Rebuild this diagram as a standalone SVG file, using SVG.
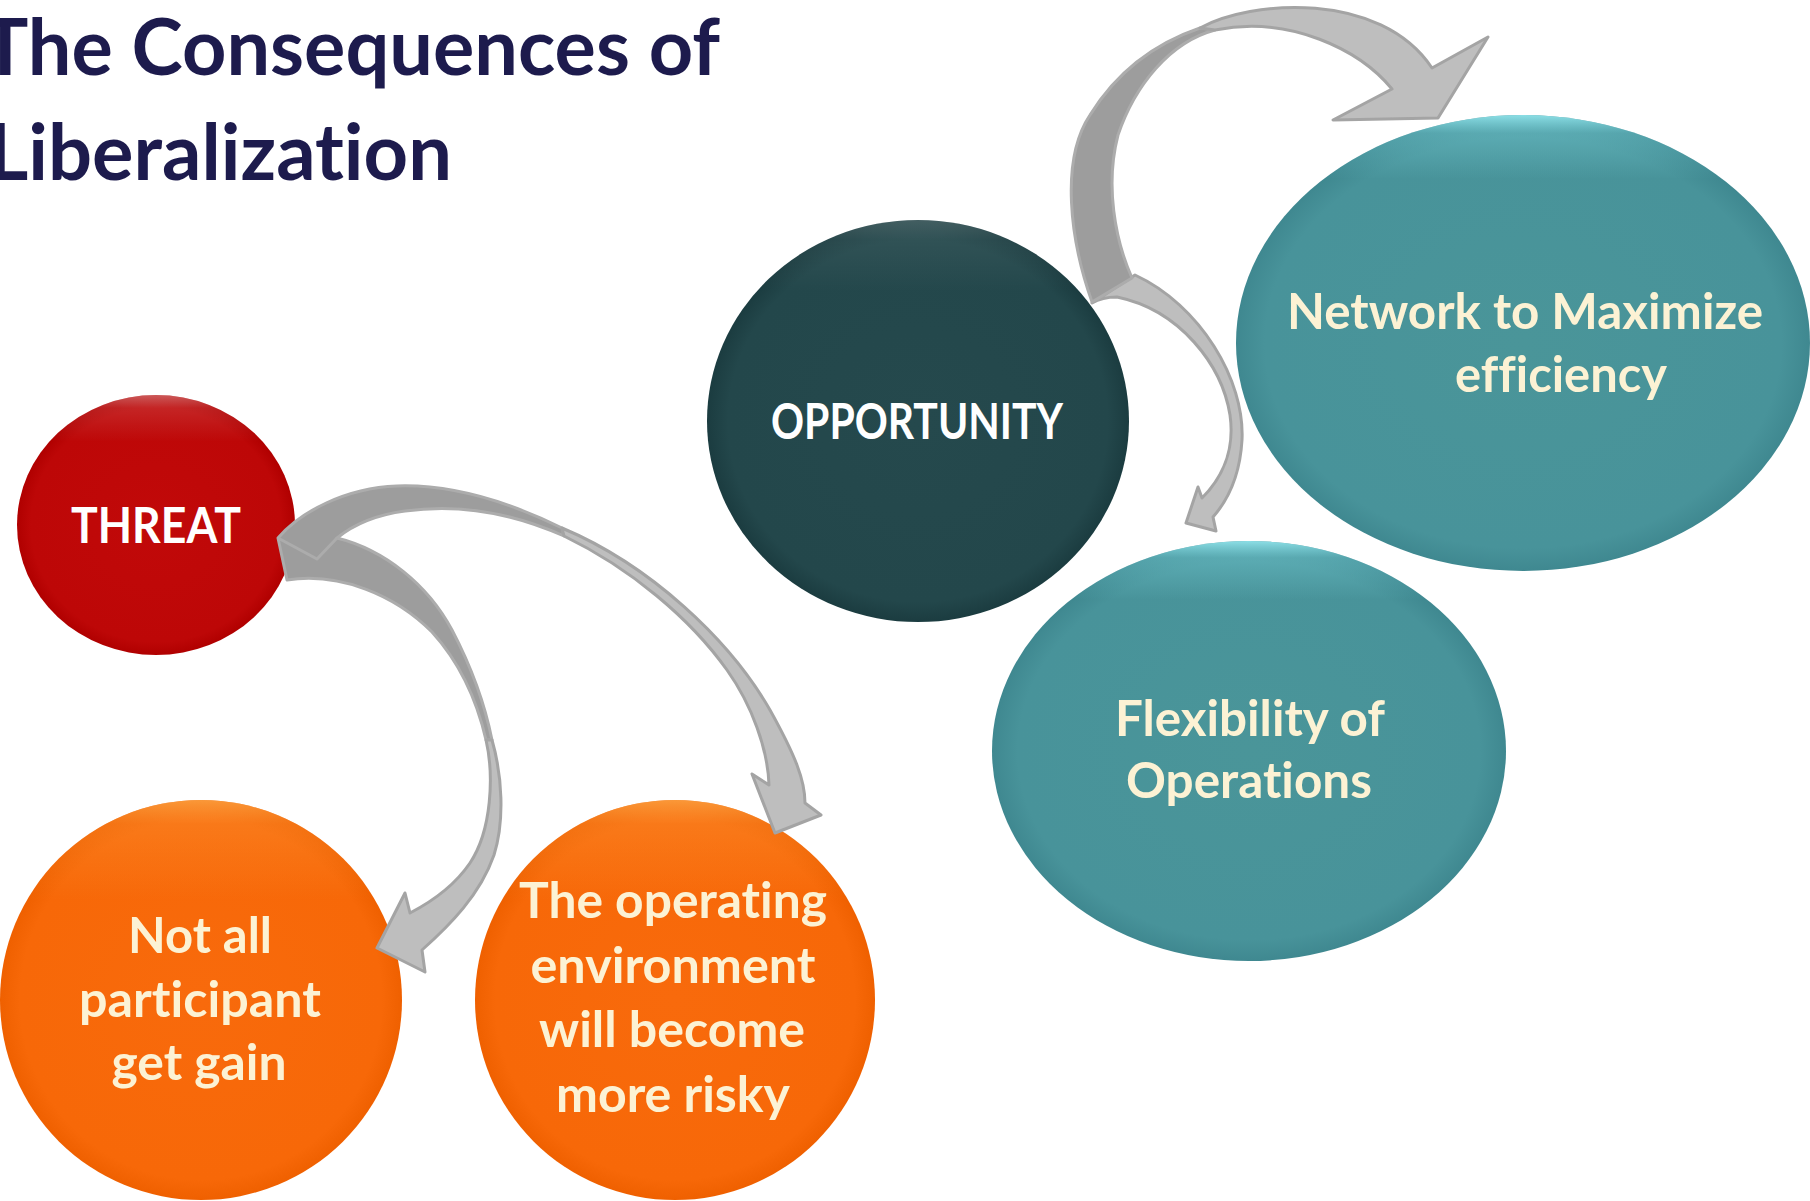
<svg xmlns="http://www.w3.org/2000/svg" width="1810" height="1201" viewBox="0 0 1810 1201">
<defs>
<style>
.title{font-family:Lato,"Open Sans","Liberation Sans",sans-serif;font-weight:700;font-size:78px;fill:#1d1b4d;font-variant-ligatures:none;font-feature-settings:"liga" 0,"clig" 0}
.lbl{font-family:Lato,"Open Sans","Liberation Sans",sans-serif;font-weight:700;font-size:50px;fill:#fcf2d4;text-anchor:middle;font-variant-ligatures:none;font-feature-settings:"liga" 0,"clig" 0}
.wh{fill:#ffffff}
.light{fill:#bebebe;stroke:#a4a4a4;stroke-width:3;stroke-linejoin:round}
.dark{fill:#9d9d9d;stroke:#acacac;stroke-width:3;stroke-linejoin:round}
.notch{fill:none;stroke:#acacac;stroke-width:3;stroke-linejoin:round}
</style>
<radialGradient id="gRed" cx="50%" cy="50%" r="50%">
<stop offset="0" stop-color="#c10909"/><stop offset="0.9" stop-color="#bd0707"/><stop offset="1" stop-color="#b00000"/>
</radialGradient>
<radialGradient id="gDark" cx="50%" cy="50%" r="50%">
<stop offset="0" stop-color="#25494d"/><stop offset="0.9" stop-color="#23474b"/><stop offset="1" stop-color="#1b3c40"/>
</radialGradient>
<radialGradient id="gTeal" cx="50%" cy="50%" r="50%">
<stop offset="0" stop-color="#4a9599"/><stop offset="0.9" stop-color="#48939a"/><stop offset="1" stop-color="#3f8890"/>
</radialGradient>
<radialGradient id="gOrange" cx="50%" cy="50%" r="50%">
<stop offset="0" stop-color="#f86a0c"/><stop offset="0.9" stop-color="#f76808"/><stop offset="1" stop-color="#ef6000"/>
</radialGradient>
<linearGradient id="rimW" x1="0" y1="0" x2="0" y2="1">
<stop offset="0" stop-color="#ffffff" stop-opacity="0.35"/><stop offset="0.05" stop-color="#ffffff" stop-opacity="0.12"/><stop offset="0.18" stop-color="#ffffff" stop-opacity="0"/>
</linearGradient>
<linearGradient id="rimC" x1="0" y1="0" x2="0" y2="1">
<stop offset="0" stop-color="#9ff4fb" stop-opacity="0.8"/><stop offset="0.04" stop-color="#8ae6ee" stop-opacity="0.3"/><stop offset="0.14" stop-color="#8ae6ee" stop-opacity="0"/>
</linearGradient>
<linearGradient id="rimO" x1="0" y1="0" x2="0" y2="1">
<stop offset="0" stop-color="#ffb050" stop-opacity="0.7"/><stop offset="0.06" stop-color="#ffa040" stop-opacity="0.3"/><stop offset="0.25" stop-color="#ffa040" stop-opacity="0"/>
</linearGradient>
</defs>
<rect width="1810" height="1201" fill="#ffffff"/>

<g id="title">
<text class="title" x="-18" y="75" textLength="738" lengthAdjust="spacingAndGlyphs">The Consequences of</text>
<text class="title" x="-12" y="180" textLength="464" lengthAdjust="spacingAndGlyphs">Liberalization</text>
</g>

<g id="node-threat">
<ellipse cx="156" cy="525" rx="139" ry="130" fill="url(#gRed)"/>
<ellipse cx="156" cy="525" rx="139" ry="130" fill="url(#rimW)"/>
<text class="lbl wh" x="156" y="543" textLength="170" lengthAdjust="spacingAndGlyphs">THREAT</text>
</g>

<g id="node-opportunity">
<ellipse cx="918" cy="421" rx="211" ry="201" fill="url(#gDark)"/>
<ellipse cx="918" cy="421" rx="211" ry="201" fill="url(#rimW)" opacity="0.5"/>
<text class="lbl wh" x="917" y="439" textLength="292" lengthAdjust="spacingAndGlyphs">OPPORTUNITY</text>
</g>

<g id="node-network">
<ellipse cx="1523" cy="343" rx="287" ry="228" fill="url(#gTeal)"/>
<ellipse cx="1523" cy="343" rx="287" ry="228" fill="url(#rimC)"/>
<text class="lbl" x="1525" y="329" textLength="476" lengthAdjust="spacingAndGlyphs">Network to Maximize</text>
<text class="lbl" x="1561" y="392" textLength="212" lengthAdjust="spacingAndGlyphs">efficiency</text>
</g>

<g id="node-flexibility">
<ellipse cx="1249" cy="751" rx="257" ry="210" fill="url(#gTeal)"/>
<ellipse cx="1249" cy="751" rx="257" ry="210" fill="url(#rimC)"/>
<text class="lbl" x="1250" y="736" textLength="270" lengthAdjust="spacingAndGlyphs">Flexibility of</text>
<text class="lbl" x="1249" y="798" textLength="246" lengthAdjust="spacingAndGlyphs">Operations</text>
</g>

<g id="node-notall">
<ellipse cx="201" cy="1000" rx="201" ry="200" fill="url(#gOrange)"/>
<ellipse cx="201" cy="1000" rx="201" ry="200" fill="url(#rimO)"/>
<text class="lbl" x="200" y="953" textLength="144" lengthAdjust="spacingAndGlyphs">Not all</text>
<text class="lbl" x="200" y="1017" textLength="242" lengthAdjust="spacingAndGlyphs">participant</text>
<text class="lbl" x="199" y="1080" textLength="175" lengthAdjust="spacingAndGlyphs">get gain</text>
</g>

<g id="node-operating">
<ellipse cx="675" cy="1000" rx="200" ry="200" fill="url(#gOrange)"/>
<ellipse cx="675" cy="1000" rx="200" ry="200" fill="url(#rimO)"/>
<text class="lbl" x="673" y="918" textLength="308" lengthAdjust="spacingAndGlyphs">The operating</text>
<text class="lbl" x="673" y="983" textLength="285" lengthAdjust="spacingAndGlyphs">environment</text>
<text class="lbl" x="672" y="1047" textLength="266" lengthAdjust="spacingAndGlyphs">will become</text>
<text class="lbl" x="673" y="1112" textLength="234" lengthAdjust="spacingAndGlyphs">more risky</text>
</g>

<g id="connectors">
<g id="arrow-threat">
<path class="dark" d="M 278,538 C 300,512 345,488 397,486 C 455,484 515,505 562,528 L 564,536 C 510,512 455,504 405,511 C 375,515 353,525 337,538 C 385,550 428,585 452,630 C 474,672 486,710 492,740 L 486,740 C 478,705 462,665 432,632 C 395,595 340,572 287,580 Z"/>
<path class="notch" d="M 278,538 L 317,559 L 337,538"/>
<path class="light" d="M 486,740 C 494,775 492,830 470,863 C 455,885 435,900 410,913 L 405,893 L 377,948 L 425,972 L 422,950 C 450,925 480,895 494,855 C 505,820 502,775 492,740 Z"/>
<path class="light" d="M 562,528 C 650,565 730,640 770,710 C 795,755 805,780 805,803 L 821,815 L 775,833 L 752,774 L 769,785 C 768,750 752,705 727,670 C 690,618 630,568 564,536 Z"/>
</g>
<g id="arrow-opportunity">
<path class="light" d="M 1135,275 C 1200,305 1245,380 1242,440 C 1240,475 1228,500 1213,517 L 1216,531 L 1186,523 L 1198,487 L 1202,498 C 1222,478 1235,450 1230,415 C 1222,365 1180,310 1117,297 C 1105,297 1097,300 1092,303 Z"/>
<path class="dark" d="M 1092,302 C 1070,240 1060,160 1090,115 C 1115,75 1150,45 1200,28 L 1215,30 C 1170,42 1135,85 1118,135 C 1105,185 1115,240 1132,278 Z"/>
<path class="light" d="M 1200,28 C 1250,0 1380,-10 1432,68 L 1488,37 L 1438,118 L 1333,120 L 1392,89 C 1360,50 1290,15 1215,30 Z"/>
</g>
</g>
</svg>
